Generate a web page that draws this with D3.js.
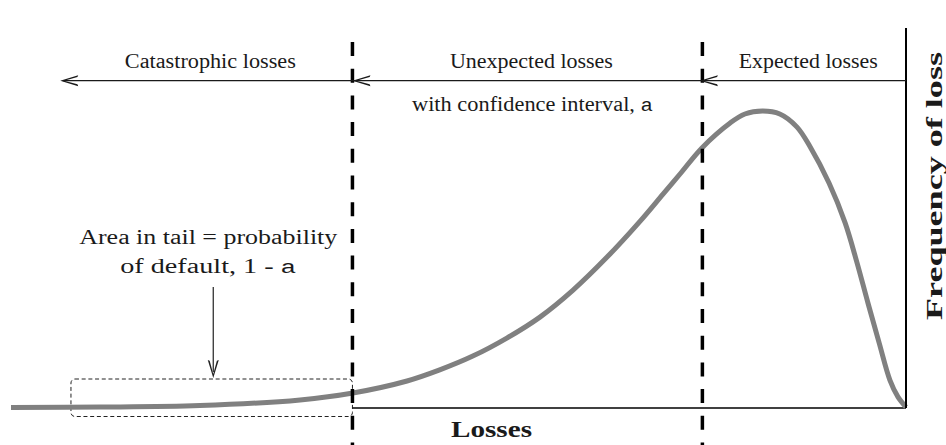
<!DOCTYPE html>
<html><head><meta charset="utf-8">
<script src="https://cdn.jsdelivr.net/npm/d3@7"></script>
<style>html,body{margin:0;padding:0;background:#fff;overflow:hidden}svg{display:block}</style>
</head><body><svg id="chart" width="946" height="445"></svg>
<script>
// ---- data (loss axis runs right→left, 0 at the frequency axis) ----
const lossValues      = [100, 90, 78.9, 67.7, 61.8, 55.75, 52.1, 48.4, 44.6, 40.9, 37.2, 33.4, 29.7, 27.15, 25.25, 22.8, 19.65, 18, 16, 14.1, 12.2, 10.7, 8.6, 6.8, 5.5, 4.25, 3, 1.8, 0.9, 0];
const frequencyValues = [0.2, 0.3, 0.8, 2.7, 5, 9, 12.7, 17.3, 23.3, 30.3, 39.3, 50.3, 62.3, 71.3, 78, 86.7, 95, 98, 99, 98, 93.7, 87, 75, 61.7, 48.7, 35, 21.7, 9.3, 3.7, 0.3];
const regionNames  = ["Expected losses", "Unexpected losses", "Catastrophic losses"];
const regionBounds = [0, 22.75, 61.85, 94.5];
const tailBounds   = [61.85, 93.3];
const tailArrowLoss = 77.4;
const axisTitles = {x: "Losses", y: "Frequency of loss"};

const svg = d3.select("#chart");
const x = d3.scaleLinear().domain([0, 100]).range([906, 11]);
const y = d3.scaleLinear().domain([0, 100]).range([408, 108]);
const data = lossValues.map((l, i) => ({loss: l, freq: frequencyValues[i]}));

const serif = "'Liberation Serif', 'Times New Roman', serif";
const mono = "'Liberation Mono', 'Courier New', monospace";
const ink = "#1a1a1a";

// arrowhead (tip at origin, pointing -x)
const headPath = "M0,0 L18,-5.5 L17.2,-3.6 L4,0 L17.2,3.6 L18,5.5 Z";
function arrowHead(tx, ty, angle, color) {
  svg.append("path").attr("d", headPath)
    .attr("transform", `translate(${tx},${ty}) rotate(${angle})`)
    .attr("fill", color || ink);
}

// tail dashed box
svg.append("rect")
  .attr("x", x(tailBounds[1])).attr("y", y(0) - 29)
  .attr("width", x(tailBounds[0]) - x(tailBounds[1])).attr("height", 37.5)
  .attr("rx", 4).attr("fill", "none").attr("stroke", "#222")
  .attr("stroke-width", 1).attr("stroke-dasharray", "4,2.7");

// baseline (x axis) from the VaR line to the frequency axis
svg.append("line")
  .attr("x1", x(regionBounds[2])).attr("x2", x(0))
  .attr("y1", y(0)).attr("y2", y(0))
  .attr("stroke", "#000").attr("stroke-width", 1.5);

// loss distribution curve
const line = d3.line().x(d => x(d.loss)).y(d => y(d.freq)).curve(d3.curveCatmullRom.alpha(0.5));
svg.append("path").datum(data).attr("d", line)
  .attr("fill", "none").attr("stroke", "#808080").attr("stroke-width", 5);

// frequency axis
svg.append("line")
  .attr("x1", x(0)).attr("x2", x(0)).attr("y1", 28).attr("y2", y(0))
  .attr("stroke", "#000").attr("stroke-width", 2);

// dashed threshold lines
[regionBounds[1], regionBounds[2]].forEach(b => {
  svg.append("line")
    .attr("x1", x(b)).attr("x2", x(b)).attr("y1", 42).attr("y2", 445)
    .attr("stroke", "#000").attr("stroke-width", 3.5)
    .attr("stroke-dasharray", "14,12.7");
});

// region arrows
const arrowY = 80.7;
svg.append("line")
  .attr("x1", x(0)).attr("x2", x(regionBounds[3]) + 3)
  .attr("y1", arrowY).attr("y2", arrowY)
  .attr("stroke", ink).attr("stroke-width", 1.3);
regionBounds.slice(1).forEach((b, i) => {
  arrowHead(x(b) + (i === 0 ? -2.5 : 0), arrowY, 0);
});

// region labels
const labelWidths = [139, 163, 171];
regionNames.forEach((name, i) => {
  const mid = (regionBounds[i] + regionBounds[i + 1]) / 2;
  svg.append("text")
    .attr("x", x(mid) + 4).attr("y", 68)
    .attr("text-anchor", "middle")
    .attr("font-family", serif).attr("font-size", 20.5).attr("fill", ink)
    .attr("textLength", labelWidths[i]).attr("lengthAdjust", "spacingAndGlyphs")
    .text(name);
});

// confidence interval note
const ci = svg.append("text")
  .attr("x", 532.5).attr("y", 111).attr("text-anchor", "middle")
  .attr("font-family", serif).attr("font-size", 20.5).attr("fill", ink)
  .attr("textLength", 241).attr("lengthAdjust", "spacingAndGlyphs");
ci.append("tspan").text("with confidence  interval, ");
ci.append("tspan").attr("font-family", mono).attr("font-size", 19).text("a");

// tail annotation
const tailX = x(tailArrowLoss);
svg.append("text")
  .attr("x", tailX - 5).attr("y", 244).attr("text-anchor", "middle")
  .attr("font-family", serif).attr("font-size", 20.5).attr("fill", ink)
  .attr("textLength", 258).attr("lengthAdjust", "spacingAndGlyphs")
  .text("Area in tail = probability");
const od = svg.append("text")
  .attr("x", tailX - 5).attr("y", 273).attr("text-anchor", "middle")
  .attr("font-family", serif).attr("font-size", 20.5).attr("fill", ink)
  .attr("textLength", 176).attr("lengthAdjust", "spacingAndGlyphs");
od.append("tspan").text("of default, 1 - ");
od.append("tspan").attr("font-family", mono).attr("font-size", 19).text("a");

svg.append("line")
  .attr("x1", tailX).attr("x2", tailX).attr("y1", 287).attr("y2", 372)
  .attr("stroke", "#333").attr("stroke-width", 1.3);
arrowHead(tailX, 378, -90, "#222");

// axis titles
svg.append("text")
  .attr("x", 491.5).attr("y", 437).attr("text-anchor", "middle")
  .attr("font-family", serif).attr("font-weight", "bold").attr("font-size", 23).attr("fill", ink)
  .attr("textLength", 81).attr("lengthAdjust", "spacingAndGlyphs")
  .text(axisTitles.x);
svg.append("text")
  .attr("transform", "translate(941.5,186) rotate(-90)")
  .attr("text-anchor", "middle")
  .attr("font-family", serif).attr("font-weight", "bold").attr("font-size", 23).attr("fill", ink)
  .attr("textLength", 268).attr("lengthAdjust", "spacingAndGlyphs")
  .text(axisTitles.y);
</script>
</body></html>
